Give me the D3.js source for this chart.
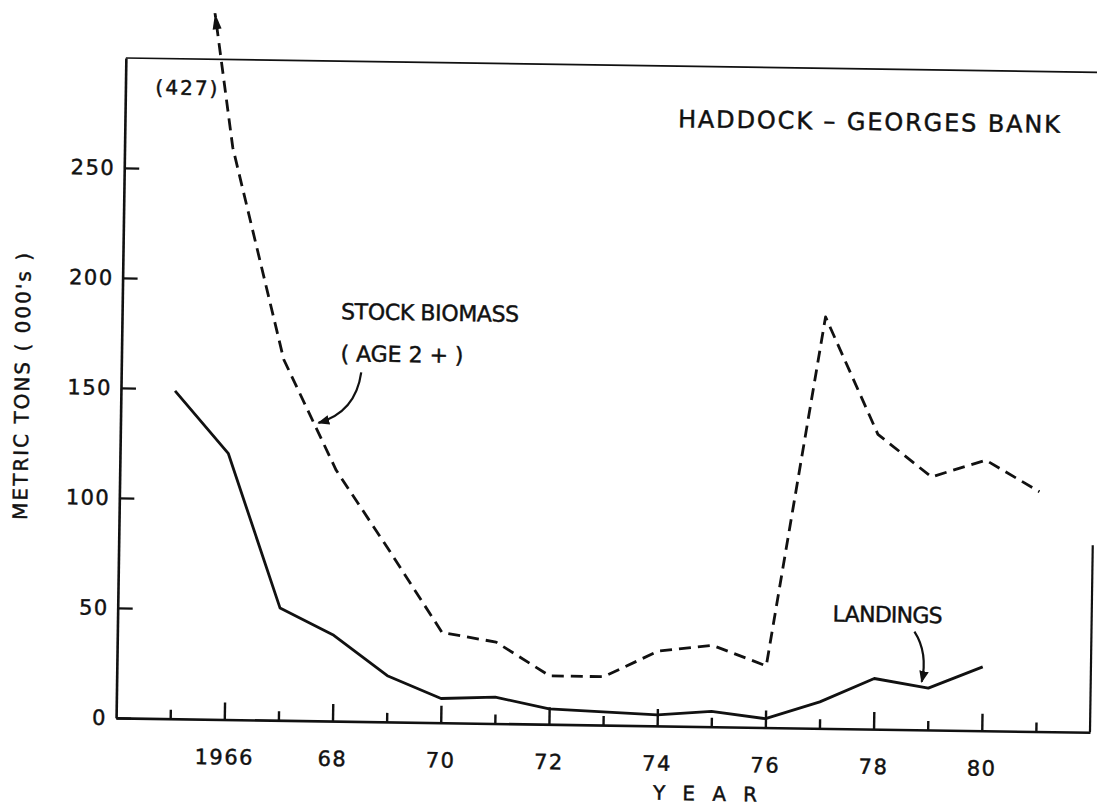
<!DOCTYPE html>
<html>
<head>
<meta charset="utf-8">
<script src="https://cdn.jsdelivr.net/npm/d3@7"></script>
<style>
body { margin: 0; background: #fff; }
svg { display: block; }
text { font-family: "DejaVu Sans", sans-serif; fill: #111; stroke: #111; stroke-width: 0.45px; }
</style>
</head>
<body>
<svg width="1097" height="809"></svg>
<script>
// values (thousands of metric tons)
var landingYears = [1965, 1966, 1967, 1968, 1969, 1970, 1971, 1972, 1973, 1974, 1975, 1976, 1977, 1978, 1979, 1980];
var landings = [149, 121, 51, 39, 21, 11, 12, 7, 6, 5, 7, 4, 12, 23, 19, 29];

var biomassYears = [1965, 1966, 1967, 1968, 1969, 1970, 1971, 1972, 1973, 1974, 1975, 1976, 1977, 1978, 1979, 1980, 1981];
var biomass = [427, 260, 164, 114, 78, 41, 37, 22, 22, 34, 37, 28, 187, 134, 115, 123, 109];

var yTicks = [0, 50, 100, 150, 200, 250];
var xTicks = [1965, 1966, 1967, 1968, 1969, 1970, 1971, 1972, 1973, 1974, 1975, 1976, 1977, 1978, 1979, 1980, 1981];

var svg = d3.select("svg");

var x = d3.scaleLinear().domain([1964, 1982]).range([121, 1095]),
    y = d3.scaleLinear().domain([0, 300]).range([725, 65]);

// the scanned figure sits slightly rotated on the page
var g = svg.append("g").attr("transform", "rotate(0.85, 600, 390)");

var defs = svg.append("defs");
defs.append("clipPath").attr("id", "topcut")
    .append("rect").attr("x", 0).attr("y", 19).attr("width", 1200).attr("height", 900);
defs.append("marker")
    .attr("id", "head")
    .attr("viewBox", "0 -5 10 10")
    .attr("refX", 9)
    .attr("refY", 0)
    .attr("orient", "auto")
    .attr("markerUnits", "userSpaceOnUse")
    .attr("markerWidth", 12)
    .attr("markerHeight", 12)
    .append("path")
    .attr("d", "M0,-4 L10,0 L0,4 Z")
    .attr("fill", "#111");

// frame: top and partial right border
g.append("line")
    .attr("x1", x(1964)).attr("x2", 1110)
    .attr("y1", y(300)).attr("y2", y(300))
    .attr("stroke", "#111").attr("stroke-width", 1.6);
g.append("line")
    .attr("x1", x(1982)).attr("x2", x(1982))
    .attr("y1", 538).attr("y2", y(0))
    .attr("stroke", "#111").attr("stroke-width", 2.2);

// axes
var xAxis = d3.axisBottom(x)
    .tickValues(xTicks)
    .tickSize(-17)
    .tickSizeOuter(0)
    .tickPadding(30)
    .tickFormat(function (d) {
        if (d === 1966) return "1966";
        return d % 2 === 0 ? String(d).slice(2) : "";
    });

var gx = g.append("g").attr("transform", "translate(0," + y(0) + ")").call(xAxis);
gx.selectAll(".tick line").attr("y2", function (d) { return d % 2 === 0 ? -17 : -9; });

var yAxis = d3.axisLeft(y)
    .tickValues(yTicks)
    .tickSize(-15)
    .tickSizeOuter(0)
    .tickPadding(9);

var gy = g.append("g").attr("transform", "translate(" + x(1964) + ",0)").call(yAxis);

g.selectAll(".domain").attr("stroke", "#111").attr("stroke-width", 2.6);
g.selectAll(".tick line").attr("stroke", "#111").attr("stroke-width", 2.4);
g.selectAll(".tick text")
    .style("font-size", "21px")
    .style("letter-spacing", "1.5px")
    .attr("fill", "#111");

// series
var line = d3.line()
    .x(function (d) { return x(d[0]); })
    .y(function (d) { return y(d[1]); });

g.append("path")
    .datum(d3.zip(landingYears, landings))
    .attr("d", line)
    .attr("fill", "none")
    .attr("stroke", "#111")
    .attr("stroke-width", 2.8)
    .attr("stroke-linejoin", "round");

var bio = d3.zip(biomassYears, biomass);
g.append("path")
    .datum(bio)
    .attr("d", line)
    .attr("clip-path", "url(#topcut)")
    .attr("fill", "none")
    .attr("stroke", "#111")
    .attr("stroke-width", 2.8)
    .attr("stroke-dasharray", "12,7")
    .attr("stroke-linejoin", "round");

// arrowhead where the off-scale 1965 value leaves the figure
var p0 = [x(bio[0][0]), y(bio[0][1])],
    p1 = [x(bio[1][0]), y(bio[1][1])],
    t = (p1[1] - 19) / (p1[1] - p0[1]),
    tip = [p1[0] + t * (p0[0] - p1[0]), 19],
    ang = Math.atan2(p0[1] - p1[1], p0[0] - p1[0]) * 180 / Math.PI;

g.append("path")
    .attr("d", "M0,0 L-16,-4.5 L-16,4.5 Z")
    .attr("transform", "translate(" + tip[0] + "," + tip[1] + ") rotate(" + ang + ")")
    .attr("fill", "#111");

// annotations
function label(txt, px, py, size, len, anchor) {
    return g.append("text")
        .attr("x", px).attr("y", py)
        .attr("text-anchor", anchor || "start")
        .attr("textLength", len)
        .style("font-size", size + "px")
        .text(txt);
}

label("HADDOCK – GEORGES BANK", 674, 126, 24, 382);
label("(427)", 151, 101, 20, 62);
label("STOCK BIOMASS", 340, 323, 22, 178);
label("( AGE 2 + )", 340, 365, 22, 123);
label("LANDINGS", 836, 618, 22, 110);
label("Y E A R", 711, 799, 20, 104, "middle");

g.append("text")
    .attr("transform", "translate(29,395) rotate(-90)")
    .attr("text-anchor", "middle")
    .attr("textLength", 267)
    .style("font-size", "20px")
    .text("METRIC TONS ( 000's )");

// pointer arrows
g.append("path")
    .attr("d", "M361,376 Q356,416 319,427")
    .attr("fill", "none")
    .attr("stroke", "#111")
    .attr("stroke-width", 2.2)
    .attr("marker-end", "url(#head)");

g.append("path")
    .attr("d", "M918,627 Q932,648 926,677")
    .attr("fill", "none")
    .attr("stroke", "#111")
    .attr("stroke-width", 2.2)
    .attr("marker-end", "url(#head)");
</script>
</body>
</html>
